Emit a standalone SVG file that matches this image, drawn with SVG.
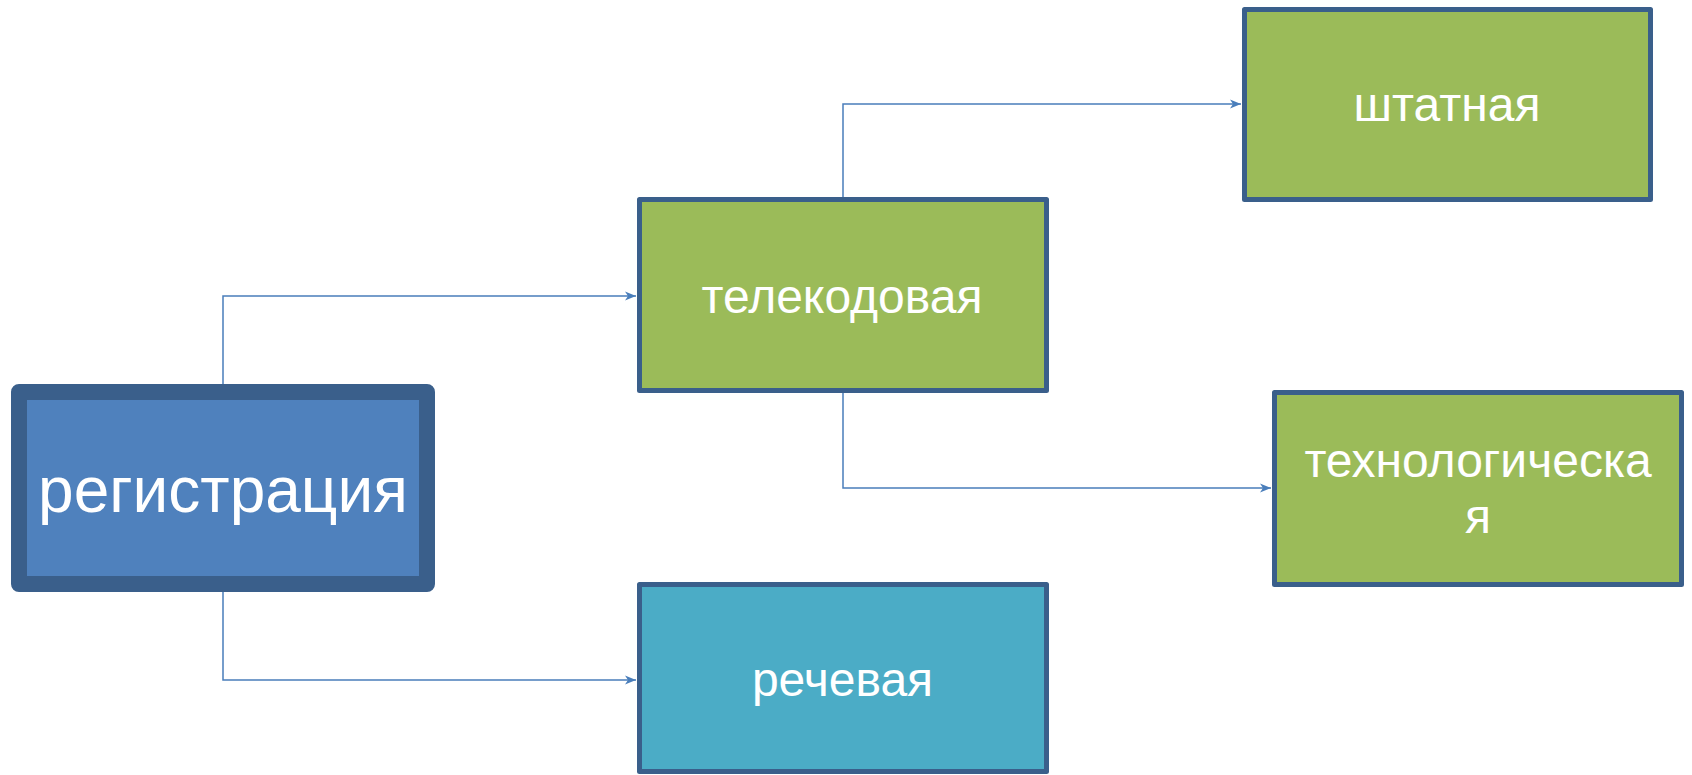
<svg xmlns="http://www.w3.org/2000/svg" width="1692" height="775" viewBox="0 0 1692 775">
  <style>
    .box { stroke: #3A5F8B; stroke-width: 5; stroke-linejoin: round; }
    .green { fill: #9BBB59; }
    .teal { fill: #4BACC6; }
    .main { fill: #4F81BD; stroke: #3A5F8B; stroke-width: 16; stroke-linejoin: round; }
    .lbl { font-family: "Liberation Sans", Arial, sans-serif; fill: #FFFFFF; text-anchor: middle; }
    .conn { fill: none; stroke: #4A7EBB; stroke-width: 1.5; }
  </style>
  <defs>
    <marker id="arr" markerUnits="userSpaceOnUse" markerWidth="14" markerHeight="12" refX="11" refY="6" orient="auto">
      <path d="M0,1.5 L11,6 L0,10.5 L3,6 Z" fill="#4A7EBB"/>
    </marker>
  </defs>
  <rect width="1692" height="775" fill="#FFFFFF"/>
  <g id="connectors">
    <path class="conn" d="M223,391 V296 H636" marker-end="url(#arr)"/>
    <path class="conn" d="M223,584 V680 H636" marker-end="url(#arr)"/>
    <path class="conn" d="M843,198 V104 H1241" marker-end="url(#arr)"/>
    <path class="conn" d="M843,393 V488 H1271" marker-end="url(#arr)"/>
  </g>
  <g id="node-registraciya">
    <rect class="main" x="19" y="392" width="408" height="192"/>
    <text class="lbl" x="223" y="512" font-size="64">регистрация</text>
  </g>
  <g id="node-telekodovaya">
    <rect class="box green" x="639.5" y="199.5" width="407" height="191"/>
    <text class="lbl" x="842" y="313" font-size="48">телекодовая</text>
  </g>
  <g id="node-shtatnaya">
    <rect class="box green" x="1244.5" y="9.5" width="406" height="190"/>
    <text class="lbl" x="1447" y="121" font-size="48">штатная</text>
  </g>
  <g id="node-tehnologicheskaya">
    <rect class="box green" x="1274.5" y="392.5" width="407" height="192"/>
    <text class="lbl" x="1478" y="477" font-size="48">технологическа</text>
    <text class="lbl" x="1478" y="533" font-size="48">я</text>
  </g>
  <g id="node-rechevaya">
    <rect class="box teal" x="639.5" y="584.5" width="407" height="187"/>
    <text class="lbl" x="842.5" y="696" font-size="48">речевая</text>
  </g>
</svg>
